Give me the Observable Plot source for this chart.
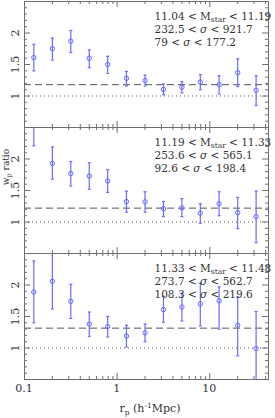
<!DOCTYPE html>
<html>
<head>
<meta charset="utf-8">
<script src="https://cdn.jsdelivr.net/npm/d3@7"></script>
<script src="https://cdn.jsdelivr.net/npm/@observablehq/plot@0.6"></script>
<style>
  html, body { margin: 0; padding: 0; background: #fff; }
  #chart svg { display: block; }
</style>
</head>
<body>
<div id="chart"></div>
<script>
// ---- data ----
const rp = [0.126, 0.2, 0.316, 0.5, 0.79, 1.26, 2, 3.16, 5, 7.9, 12.6, 20, 31.6];

const ratio1 = [1.61, 1.75, 1.87, 1.60, 1.50, 1.28, 1.245, 1.105, 1.14, 1.22, 1.18, 1.37, 1.09];
const lo1    = [1.40, 1.57, 1.69, 1.45, 1.36, 1.16, 1.16, 1.02, 1.05, 1.10, 1.03, 1.15, 0.85];
const hi1    = [1.82, 1.92, 2.04, 1.73, 1.63, 1.39, 1.33, 1.19, 1.23, 1.34, 1.32, 1.59, 1.32];

const ratio2 = [2.65, 1.93, 1.77, 1.73, 1.65, 1.325, 1.32, 1.21, 1.225, 1.14, 1.29, 1.15, 1.085];
const lo2    = [2.21, 1.68, 1.57, 1.52, 1.47, 1.155, 1.155, 1.085, 1.085, 0.98, 1.10, 0.895, 0.67];
const hi2    = [3.10, 2.19, 1.96, 1.94, 1.83, 1.49, 1.48, 1.325, 1.37, 1.29, 1.48, 1.39, 1.49];

const ratio3 = [1.89, 2.06, 1.74, 1.38, 1.34, 1.19, 1.24, 1.61, 1.65, 1.70, 1.75, 1.36, 0.99];
const lo3    = [1.40, 1.62, 1.47, 1.185, 1.175, 1.015, 1.10, 1.41, 1.43, 1.35, 1.30, 0.876, 0.45];
const hi3    = [2.38, 2.60, 2.01, 1.57, 1.50, 1.36, 1.38, 1.82, 1.87, 2.03, 1.97, 1.81, 1.58];

const meanRatio = [1.18, 1.22, 1.315];

const labels1 = ["11.04 < M{star} < 11.19", "232.5 < σ < 921.7", "79 < σ < 177.2"];
const labels2 = ["11.19 < M{star} < 11.33", "253.6 < σ < 565.1", "92.6 < σ < 198.4"];
const labels3 = ["11.33 < M{star} < 11.48", "273.7 < σ < 562.7", "108.3 < σ < 219.6"];

const xMajor = [0.1, 1, 10];
const xMinor = [0.2,0.3,0.4,0.5,0.6,0.7,0.8,0.9, 2,3,4,5,6,7,8,9, 20,30,40];
const yMajor = [1, 1.5, 2];
const yMinor = [0.6,0.7,0.8,0.9,1.1,1.2,1.3,1.4,1.6,1.7,1.8,1.9,2.1,2.2,2.3,2.4];
const yTickLabels = ["1", "1.5", "2"];

// ---- build tables ----
const series = [[ratio1, lo1, hi1], [ratio2, lo2, hi2], [ratio3, lo3, hi3]];
const rows = [];
series.forEach(([r, lo, hi], p) => rp.forEach((x, i) => rows.push({panel: p, rp: x, ratio: r[i], lo: lo[i], hi: hi[i]})));
const means = meanRatio.map((m, p) => ({panel: p, m}));
const annots = [];
[labels1, labels2, labels3].forEach((ls, p) => ls.forEach((t, k) => annots.push({panel: p, k, t})));

const W = 275, H = 418, ML = 24, MR = 7, MT = 1, MB = 39;
const yDom = [0.5, 2.5];
const pw = W - ML - MR;
const ph = (H - MT - MB) / 3;
const inY = v => v >= yDom[0] && v <= yDom[1];
const clampY = v => Math.max(yDom[0], Math.min(yDom[1], v));

const blue = "#6b6bff";
const frameCol = "#6e6e6e";
const txt = "#333";
const font = "'DejaVu Serif', 'Liberation Serif', serif";

const cap = {draw(ctx, size) { const w = Math.sqrt(size) / 2; ctx.moveTo(-w, 0); ctx.lineTo(w, 0); }};

const annotMarks = [0, 1, 2].map(k =>
  Plot.text(annots.filter(d => d.k === k), {fy: "panel", text: "t", frameAnchor: "top-left", dx: 130, dy: 15.5 + k * 12.8,
    textAnchor: "start", lineAnchor: "middle", fill: txt, fontSize: 10.5}));

const chart = Plot.plot({
  width: W, height: H,
  marginLeft: ML, marginRight: MR, marginTop: MT, marginBottom: MB,
  style: {fontFamily: font, fontSize: "11px", color: txt, background: "#fff"},
  x: {type: "log", domain: [0.1, 43], axis: null},
  y: {domain: yDom, axis: null},
  fy: {domain: [0, 1, 2], axis: null, padding: 0},
  marks: [
    Plot.ruleY([1], {stroke: "#555", strokeDasharray: "1,3", strokeWidth: 1}),
    Plot.ruleY(means, {fy: "panel", y: "m", stroke: "#555", strokeDasharray: "7,4", strokeWidth: 1}),
    Plot.ruleX(rows, {fy: "panel", x: "rp", y1: d => clampY(d.lo), y2: d => clampY(d.hi), stroke: blue, strokeWidth: 1.2}),
    Plot.dot(rows.filter(d => inY(d.hi)), {fy: "panel", x: "rp", y: "hi", symbol: cap, r: 1.7, stroke: blue, strokeWidth: 1.2}),
    Plot.dot(rows.filter(d => inY(d.lo)), {fy: "panel", x: "rp", y: "lo", symbol: cap, r: 1.7, stroke: blue, strokeWidth: 1.2}),
    Plot.dot(rows.filter(d => inY(d.ratio)), {fy: "panel", x: "rp", y: "ratio", r: 2.2, stroke: blue, fill: "none", strokeWidth: 1}),
    Plot.tickY(yMajor, {y: d => d, insetRight: pw - 6, stroke: frameCol}),
    Plot.tickY(yMinor, {y: d => d, insetRight: pw - 3, stroke: frameCol}),
    Plot.tickY(yMajor, {y: d => d, insetLeft: pw - 6, stroke: frameCol}),
    Plot.tickY(yMinor, {y: d => d, insetLeft: pw - 3, stroke: frameCol}),
    Plot.tickX(xMajor, {x: d => d, insetTop: ph - 6, stroke: frameCol}),
    Plot.tickX(xMinor, {x: d => d, insetTop: ph - 3, stroke: frameCol}),
    Plot.tickX(xMajor, {x: d => d, insetBottom: ph - 6, stroke: frameCol}),
    Plot.tickX(xMinor, {x: d => d, insetBottom: ph - 3, stroke: frameCol}),
    Plot.frame({stroke: frameCol, strokeWidth: 1}),
    Plot.text(yMajor, {y: d => d, text: (d, i) => yTickLabels[i], frameAnchor: "left", dx: -9.5, rotate: -90,
      textAnchor: "middle", lineAnchor: "middle", fill: txt, fontSize: 11}),
    ...annotMarks
  ]
});

document.getElementById("chart").appendChild(chart);
const svg = d3.select(chart);

// rich text for annotations: M{star} subscript, σ italic
svg.selectAll("text").each(function() {
  const s = this.textContent;
  if (!s.includes("{") && !s.includes("σ")) return;
  const el = d3.select(this);
  el.text(null);
  const parts = s.split(/(\{[^}]*\}|σ)/).filter(p => p !== "");
  let shifted = false;
  parts.forEach(p => {
    if (p.startsWith("{")) {
      el.append("tspan").attr("font-size", "7.5px").attr("dy", 2).text(p.slice(1, -1));
      shifted = true;
    } else if (p === "σ") {
      el.append("tspan").attr("font-style", "italic").text(p);
    } else {
      const t = el.append("tspan").text(p);
      if (shifted) { t.attr("dy", -2); shifted = false; }
    }
  });
});

// axis titles
const xT = svg.append("text").attr("x", ML + pw / 2 + 4).attr("y", 412).attr("text-anchor", "middle")
  .attr("fill", txt).attr("font-size", 11).attr("font-family", font);
xT.append("tspan").text("r");
xT.append("tspan").attr("font-size", "7.5px").attr("dy", 2.5).text("p");
xT.append("tspan").attr("dy", -2.5).text(" (h");
xT.append("tspan").attr("font-size", "7.5px").attr("dy", -4).text("-1");
xT.append("tspan").attr("dy", 4).text("Mpc)");

const yT = svg.append("text").attr("transform", "translate(9,167) rotate(-90)").attr("text-anchor", "middle")
  .attr("fill", txt).attr("font-size", 9).attr("font-family", font);
yT.append("tspan").text("w");
yT.append("tspan").attr("font-size", "6.5px").attr("dy", 1.5).text("p");
yT.append("tspan").attr("dy", -1.5).text(" ratio");

// x tick labels at bottom
const xs = chart.scale("x");
xMajor.forEach(v => {
  svg.append("text").attr("x", xs.apply(v)).attr("y", 392).attr("text-anchor", "middle")
    .attr("fill", txt).attr("font-size", 11).attr("font-family", font).text(String(v));
});
</script>
</body>
</html>
